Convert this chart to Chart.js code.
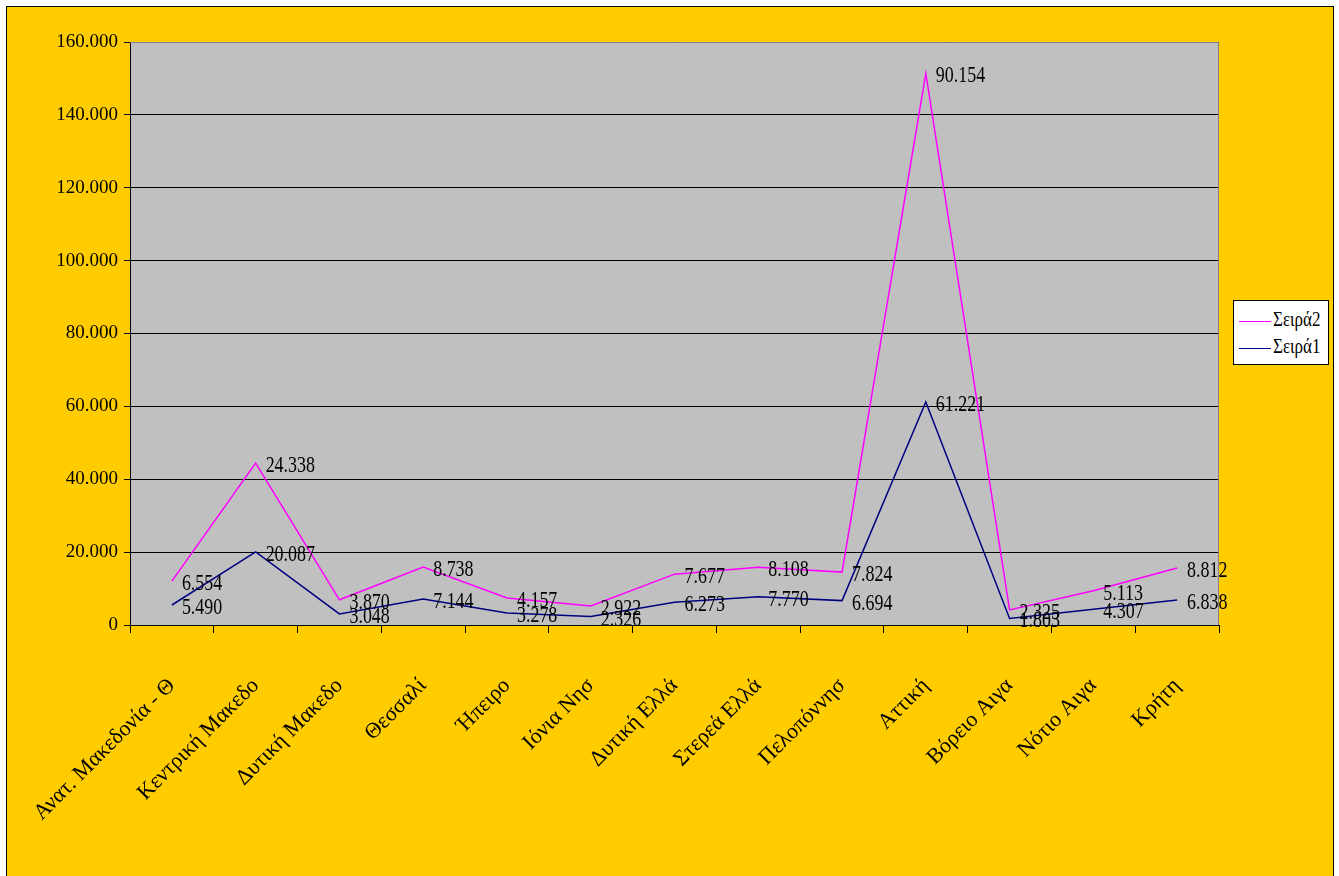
<!DOCTYPE html>
<html>
<head>
<meta charset="utf-8">
<script src="https://cdn.jsdelivr.net/npm/chart.js@4/dist/chart.umd.min.js"></script>
<style>
  html, body { margin: 0; padding: 0; background: #fff; overflow: hidden; }
  #frame {
    position: absolute; left: 6px; top: 6px; width: 1326px; height: 900px;
    background: #FFCC00; border: 1px solid #000;
  }
  #wrap { position: absolute; left: 0; top: 0; width: 1339px; height: 876px; }
  #legend {
    position: absolute; left: 1233px; top: 300px; width: 94px; height: 63px;
    background: #fff; border: 1px solid #000;
    font-family: "Liberation Serif", serif; font-size: 20px; color: #000;
  }
  #legend .item { position: absolute; left: 5px; height: 24px; line-height: 24px; white-space: nowrap; }
  #legend .swatch { display: inline-block; width: 32px; height: 0; border-top: 1.5px solid; vertical-align: middle; }
  #legend .txt { display: inline-block; transform: scaleX(0.85); transform-origin: left center; margin-left: 2px; }
</style>
</head>
<body>
<div id="frame"></div>
<div id="wrap"><canvas id="chart"></canvas></div>
<div id="legend">
  <div class="item" style="top:6px"><span class="swatch" style="border-color:#FF00FF"></span><span class="txt">Σειρά2</span></div>
  <div class="item" style="top:33px"><span class="swatch" style="border-color:#000080"></span><span class="txt">Σειρά1</span></div>
</div>
<script>
// data
var regions = ['Ανατ. Μακεδονία - Θ', 'Κεντρική Μακεδο', 'Δυτική Μακεδο', 'Θεσσαλί', 'Ήπειρο',
  'Ιόνια Νησ', 'Δυτική Ελλά', 'Στερεά Ελλά', 'Πελοπόννησ', 'Αττική', 'Βόρειο Αιγα', 'Νότιο Αιγα', 'Κρήτη'];
var seira1 = [5490, 20087, 3048, 7144, 3278, 2326, 6273, 7770, 6694, 61221, 1803, 4307, 6838];
var seira2 = [6554, 24338, 3870, 8738, 4157, 2922, 7677, 8108, 7824, 90154, 2325, 5113, 8812];
var yMax = 160000;
var yStep = 20000;

function fmt(v) {
  return String(v).replace(/\B(?=(\d{3})+(?!\d))/g, '.');
}

// grey plot area
var plotBg = {
  id: 'plotBg',
  beforeDraw: function(chart) {
    var a = chart.chartArea, ctx = chart.ctx;
    ctx.save();
    ctx.fillStyle = '#C0C0C0';
    ctx.fillRect(a.left, a.top, a.right - a.left, a.bottom - a.top);
    ctx.restore();
  },
  afterDraw: function(chart) {
    var a = chart.chartArea, ctx = chart.ctx;
    ctx.save();
    ctx.strokeStyle = '#808080';
    ctx.lineWidth = 1;
    ctx.beginPath();
    ctx.moveTo(a.left, a.top + 0.5);
    ctx.lineTo(a.right - 0.5, a.top + 0.5);
    ctx.lineTo(a.right - 0.5, a.bottom);
    ctx.stroke();
    ctx.restore();
  }
};

// value labels to the right of each point
var valueLabels = {
  id: 'valueLabels',
  afterDatasetsDraw: function(chart) {
    var ctx = chart.ctx;
    ctx.save();
    ctx.fillStyle = '#000';
    ctx.font = '23px "Liberation Serif"';
    ctx.textAlign = 'left';
    ctx.textBaseline = 'middle';
    chart.data.datasets.forEach(function(ds, di) {
      var meta = chart.getDatasetMeta(di);
      meta.data.forEach(function(pt, i) {
        ctx.save();
        ctx.translate(pt.x + 10, pt.y + 3);
        ctx.scale(0.78, 1);
        ctx.fillText(fmt(ds.data[i]), 0, 0);
        ctx.restore();
      });
    });
    ctx.restore();
  }
};

new Chart(document.getElementById('chart').getContext('2d'), {
  type: 'line',
  data: {
    labels: regions,
    datasets: [
      { label: 'Σειρά1', data: seira1, borderColor: '#000080', borderWidth: 1.5, pointRadius: 0, tension: 0, fill: false },
      { label: 'Σειρά2', data: seira2, borderColor: '#FF00FF', borderWidth: 1.5, pointRadius: 0, tension: 0, fill: false }
    ]
  },
  options: {
    responsive: true,
    maintainAspectRatio: false,
    animation: false,
    layout: { padding: { top: 42, right: 120, left: 0, bottom: 0 } },
    plugins: {
      legend: { display: false },
      tooltip: { enabled: false }
    },
    scales: {
      x: {
        offset: true,
        grid: { offset: true, drawOnChartArea: false, drawTicks: true, tickLength: 8, color: '#000' },
        border: { display: true, color: '#000', width: 1 },
        ticks: {
          autoSkip: false, maxRotation: 45, minRotation: 45, padding: 40,
          color: '#000', font: { family: 'Liberation Serif', size: 22 }
        },
        afterFit: function(scale) {
          scale.height = 251;
          scale.paddingLeft = 0;
          scale.paddingRight = 0;
        }
      },
      y: {
        stacked: true,
        min: 0, max: yMax,
        grid: { color: '#000', lineWidth: 1, drawTicks: true, tickLength: 6 },
        border: { display: true, color: '#000', width: 1 },
        ticks: {
          stepSize: yStep, padding: 6, color: '#000',
          font: { family: 'Liberation Serif', size: 19 },
          callback: function(v) { return fmt(v); }
        },
        afterFit: function(scale) { scale.width = 130; }
      }
    }
  },
  plugins: [plotBg, valueLabels]
});
</script>
</body>
</html>
